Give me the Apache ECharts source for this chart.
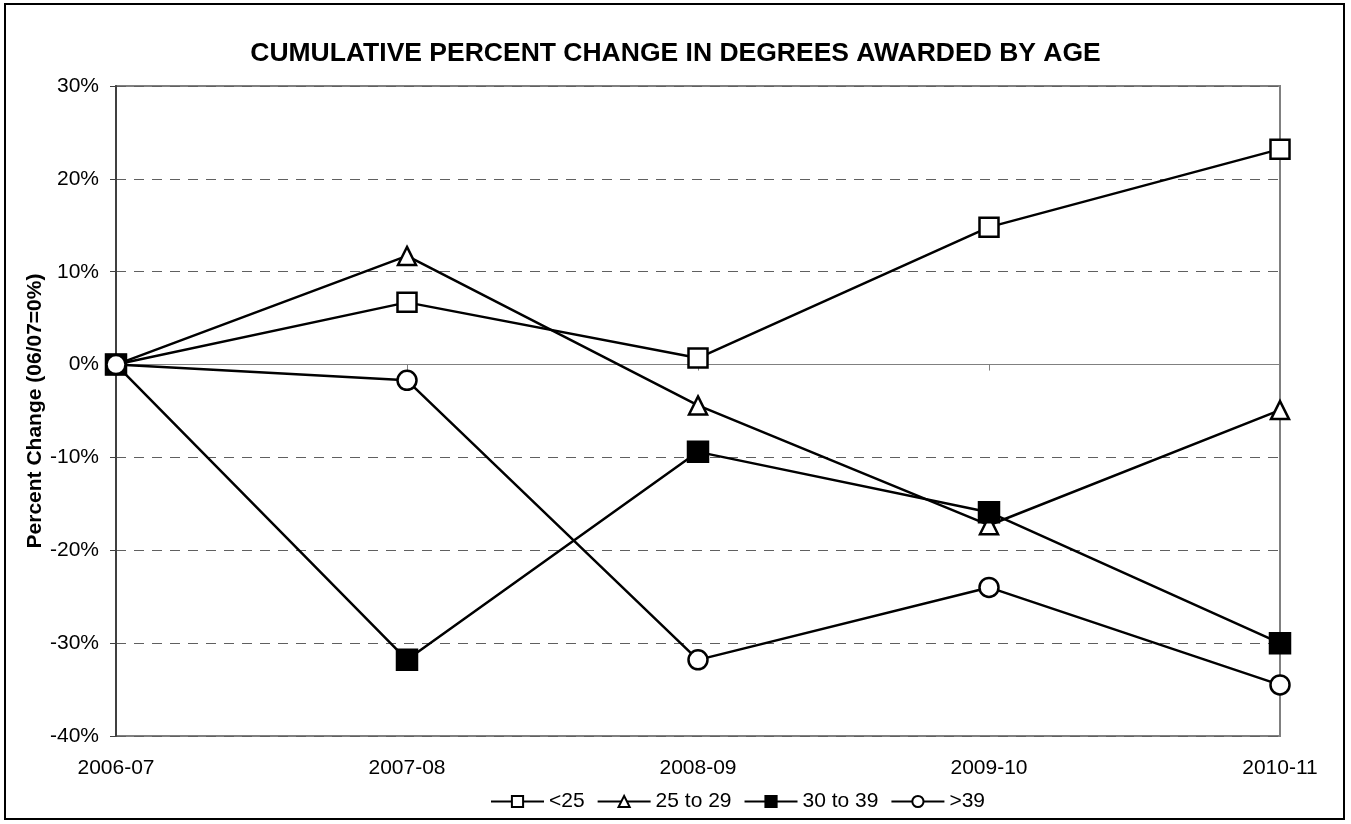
<!DOCTYPE html>
<html><head><meta charset="utf-8">
<script src="https://cdn.jsdelivr.net/npm/echarts@6/dist/echarts.min.js"></script>
<style>
html,body{margin:0;padding:0;background:#fff;}
#frame{position:absolute;left:4px;top:3px;width:1341px;height:817px;border:2px solid #000;box-sizing:border-box;}
#c{position:absolute;left:0;top:0;width:1351px;height:824px;}
</style></head>
<body><div id="frame"></div><div id="c"></div>
<script>
const categories = ['2006-07','2007-08','2008-09','2009-10','2010-11'];
const under25 = [0, 6.7, 0.7, 14.8, 23.2];
const age25to29 = [0, 11.7, -4.4, -17.3, -4.9];
const age30to39 = [0, -31.8, -9.4, -15.9, -30.0];
const over39 = [0, -1.7, -31.8, -24.0, -34.5];

const font = '"Liberation Sans", Arial, sans-serif';
const chart = echarts.init(document.getElementById('c'));
function ser(name, data, symbol, fill, size){
  return {name, type:'line', data, symbol, symbolSize: size,
    lineStyle:{color:'#000',width:2.5}, itemStyle:{color:fill,borderColor:'#000',borderWidth:2.5},
    emphasis:{disabled:true}, z:5};
}
chart.setOption({
  animation:false,
  backgroundColor:'transparent',
  title:{text:'CUMULATIVE PERCENT CHANGE IN DEGREES AWARDED BY AGE', left:'center', top:35,
    textStyle:{fontFamily:font,fontWeight:'bold',fontSize:26.5,color:'#000'}},
  grid:{left:116,right:71,top:86,bottom:88,show:true,borderColor:'#808080',borderWidth:2},
  legend:{top:786,left:485,itemWidth:53,itemHeight:14,itemGap:12,
    textStyle:{fontFamily:font,fontSize:21,color:'#000'},
    data:['<25','25 to 29','30 to 39','>39']},
  xAxis:[{type:'category',data:categories,boundaryGap:false,
    axisLine:{onZero:false,show:false},axisTick:{show:false},
    axisLabel:{fontFamily:font,fontSize:21,color:'#000',margin:22},splitLine:{show:false}},
    {type:'category',data:categories,boundaryGap:false,position:'bottom',
    axisLine:{onZero:true,lineStyle:{color:'#808080',width:1}},
    axisTick:{show:true,alignWithLabel:true,length:6,inside:false,lineStyle:{color:'#808080'}},
    axisLabel:{show:false},splitLine:{show:false}}],
  yAxis:{type:'value',min:-40,max:30,interval:10,
    name:'Percent Change (06/07=0%)',nameLocation:'middle',nameGap:70,nameMoveOverlap:false,
    nameTextStyle:{fontFamily:font,fontWeight:'bold',fontSize:21,color:'#000'},
    axisLine:{show:true,lineStyle:{color:'#404040',width:2}},
    axisTick:{show:true,length:6,lineStyle:{color:'#404040'}},
    axisLabel:{fontFamily:font,fontSize:21,color:'#000',margin:17,formatter:v=>v+'%'},
    splitLine:{show:true,lineStyle:{color:'#606060',type:[10,8],width:1}}},
  series:[
    ser('<25',under25,'rect','#fff',19),
    ser('25 to 29',age25to29,'triangle','#fff',18),
    ser('30 to 39',age30to39,'rect','#000',20),
    ser('>39',over39,'circle','#fff',19)
  ]
});
</script></body></html>
